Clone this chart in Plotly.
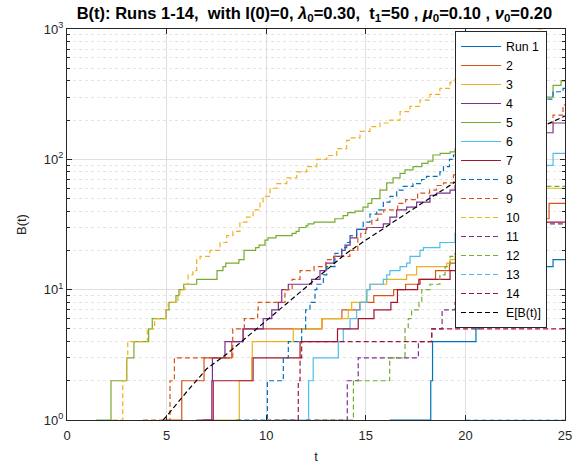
import plotly.graph_objects as go

# Simulated birth counts B(t): for each run, the times at which B jumps and the value after each jump
run1_t = [16.2, 18.26, 18.35, 20.53, 20.68, 20.82, 21.5, 22.5, 23.5, 24.4]
run1_b = [1, 2, 4, 5, 6, 7, 9, 12, 15, 17]

run2_t = [4.8, 5.76, 6.88, 8.27, 8.84, 12.8, 13.8, 14.7, 15.4, 16.4, 17.0, 17.65, 18.5, 19.2, 19.5,
          21.0, 22.5, 24.2]
run2_b = [1, 2, 3, 4, 5, 6, 7, 8, 9, 10, 11, 12, 14, 16, 17, 25, 35, 46]

run3_t = [7.0, 8.65, 9.27, 9.30, 11.36, 12.79, 14.12, 14.29, 15.05, 15.21, 16.05, 17.05, 17.55, 19.06, 19.23, 19.48, 21.0, 22.5, 24.0]
run3_b = [1, 2, 3, 4, 5, 6, 7, 8, 10, 11, 12, 13, 15, 16, 17, 18, 28, 42, 60]

run4_t = [6.5, 7.27, 7.30, 7.93, 8.84, 9.85, 10.28, 10.61, 10.78, 11.11, 12.28, 12.7, 13.0, 13.4, 13.79,
          13.96, 14.21, 14.54, 15.05, 15.88, 16.21, 16.55, 17.05, 17.55, 18.22, 18.56, 19.23, 19.48,
          20.5, 21.5, 22.5, 23.5, 24.4]
run4_b = [1, 2, 3, 4, 5, 6, 7, 8, 10, 11, 12, 14, 16, 18, 20,
          22, 25, 29, 30, 32, 36, 41, 43, 47, 53, 55, 58, 63,
          80, 100, 130, 160, 190]

run5_t = [1.46, 2.21, 3.00, 3.36, 4.10, 4.28, 4.97, 5.12, 5.47, 5.62, 5.86, 6.51, 7.53, 7.83, 7.97,
          8.63, 8.89, 9.47, 9.64, 9.94, 10.09, 10.49, 11.30, 11.50, 11.65, 12.00, 12.10, 12.40, 13.45,
          13.86, 14.09, 14.46, 14.86, 15.11, 15.30, 15.71, 16.05, 16.37, 16.72, 16.97, 17.37, 17.81,
          18.12, 18.37, 18.73, 19.23, 19.48, 20.5, 21.5, 22.5, 23.5, 24.4, 24.8]
run5_b = [1, 2, 3, 4, 5, 6, 7, 8, 9, 10, 11, 12, 14, 15, 16,
          17, 20, 21, 22, 24, 25, 26, 27, 28, 30, 31, 32, 33, 35,
          37, 39, 40, 43, 46, 50, 58, 66, 72, 78, 83, 88, 93,
          97, 108, 111, 114, 121, 160, 200, 250, 300, 370, 400]

run6_t = [10.5, 12.13, 12.36, 13.62, 13.87, 14.21, 14.54, 14.71, 15.05, 15.21, 15.88, 16.05, 16.21,
          16.72, 17.05, 17.22, 17.72, 17.89, 18.72, 19.48, 20.5, 21.5, 22.5, 23.5, 24.4]
run6_b = [1, 2, 3, 4, 5, 6, 7, 8, 10, 11, 12, 13, 14,
          15, 16, 18, 20, 21, 23, 27, 40, 55, 70, 90, 111]

run7_t = [6.8, 7.34, 9.34, 11.70, 13.58, 14.62, 15.41, 16.26, 16.59, 17.60, 17.72, 19.23, 21.0, 22.5, 24.0]
run7_b = [1, 2, 3, 4, 5, 6, 7, 8, 10, 11, 12, 14, 20, 26, 33]

run8_t = [8.5, 10.06, 10.86, 11.11, 11.78, 11.98, 12.20, 12.45, 12.54, 12.87, 13.04, 13.45, 13.79,
          14.04, 14.21, 14.54, 14.87, 15.21, 15.55, 15.88, 16.21, 16.55, 16.88, 17.37, 17.80, 18.05,
          18.72, 18.90, 19.20, 19.40, 20.5, 21.5, 22.5, 23.5, 24.4, 24.9]
run8_b = [1, 2, 3, 4, 5, 7, 8, 10, 11, 13, 15, 19, 21,
          23, 26, 29, 33, 38, 41, 47, 52, 58, 62, 65, 70, 74,
          80, 88, 100, 108, 150, 190, 240, 290, 330, 350]

run9_t = [3.82, 5.17, 5.39, 8.32, 8.90, 9.57, 9.60, 10.94, 11.30, 11.70, 12.40, 13.00, 13.40, 14.20,
          14.60, 14.75, 15.00, 15.30, 15.60, 15.90, 16.60, 17.00, 17.60, 18.20, 18.55, 18.90, 19.40,
          20.5, 21.5, 22.5, 23.5, 24.4, 24.9]
run9_b = [1, 2, 3, 5, 6, 7, 8, 10, 12, 14, 15, 17, 18, 20,
          25, 27, 30, 34, 38, 41, 46, 49, 55, 58, 63, 66, 76,
          100, 130, 160, 190, 218, 262]

run10_t = [2.29, 2.80, 3.00, 3.05, 4.03, 4.40, 4.97, 5.08, 5.57, 5.67, 5.92, 6.08, 6.32, 6.51, 6.68,
           7.18, 7.68, 8.02, 8.33, 8.68, 9.02, 9.34, 9.69, 9.84, 10.19, 10.53, 11.03, 11.53, 12.03,
           12.54, 13.04, 13.54, 14.04, 14.21, 14.71, 15.21, 15.71, 16.21, 16.72, 17.22, 17.72, 18.22,
           18.72, 19.23, 19.48, 19.98, 20.48, 20.98, 21.5, 22.0, 22.5, 23.09, 23.6, 24.0]
run10_b = [1, 2, 3, 4, 5, 6, 7, 8, 9, 10, 11, 13, 14, 17, 18,
           20, 23, 26, 28, 33, 36, 41, 47, 52, 60, 65, 72, 80, 88,
           100, 107, 121, 140, 146, 164, 178, 190, 200, 232, 255, 285, 315,
           350, 390, 415, 460, 520, 580, 630, 700, 780, 875, 1000, 1100]

run11_t = [12.0, 14.07, 14.62, 17.64, 18.31, 18.83, 19.48, 21.0, 22.5, 24.0]
run11_b = [1, 2, 3, 4, 5, 7, 8, 14, 22, 32]

run12_t = [12.5, 14.38, 16.20, 16.97, 17.13, 17.30, 17.67, 17.81, 18.22, 18.72, 18.98, 19.23, 19.48,
           21.0, 22.5, 24.0]
run12_b = [1, 2, 3, 5, 6, 7, 8, 10, 11, 13, 15, 18, 19, 30, 45, 62]

run13_t = [20.0]
run13_b = [1]

run14_t = [10.0, 11.61, 11.70, 11.78, 18.31]
run14_b = [1, 2, 3, 4, 5]

# Expected value E[B(t)], read at sample times
mean_t = [4.82, 5, 6, 7, 8, 9, 10, 11, 12, 13, 14, 15, 16, 17, 18, 19, 20, 21, 22, 23, 24, 25]
mean_b = [1.0, 1.07, 1.64, 2.46, 3.19, 4.29, 5.77, 7.77, 10.4, 14.0, 18.9, 24.0, 30.3, 38, 48, 60,
          75, 93, 116, 146, 183, 215]

T_END = 25
runs = [
    (run1_t, run1_b), (run2_t, run2_b), (run3_t, run3_b), (run4_t, run4_b), (run5_t, run5_b),
    (run6_t, run6_b), (run7_t, run7_b), (run8_t, run8_b), (run9_t, run9_b), (run10_t, run10_b),
    (run11_t, run11_b), (run12_t, run12_b), (run13_t, run13_b), (run14_t, run14_b),
]
names = ["Run 1"] + [str(k) for k in range(2, 15)]
colors = ["#0072BD", "#D95319", "#EDB120", "#7E2F8E", "#77AC30", "#4DBEEE", "#A2142F"]
DASH = "5px,3px"

fig = go.Figure()
for k, (ts, bs) in enumerate(runs):
    x = list(ts) + [T_END]
    y = list(bs) + [bs[-1]]
    fig.add_trace(go.Scatter(
        x=x, y=y, mode="lines", name=names[k],
        line=dict(shape="hv", color=colors[k % 7], width=1.2,
                  dash="solid" if k < 7 else DASH),
    ))
fig.add_trace(go.Scatter(
    x=mean_t, y=mean_b, mode="lines", name="E[B(t)]",
    line=dict(color="black", width=1.2, dash=DASH),
))

axis_color = "#262626"
font = "Liberation Sans, Arial, Helvetica, sans-serif"
minor_vals = [m * 10 ** e for e in range(3) for m in range(2, 10)]

fig.update_layout(
    width=579, height=471,
    margin=dict(l=67, r=14, t=29, b=51),
    paper_bgcolor="white", plot_bgcolor="white",
    font=dict(family=font, size=13, color=axis_color),
    title=dict(
        text="B(t): Runs 1-14,  with I(0)=0, <i>λ</i><sub>0</sub>=0.30,  t<sub>1</sub>=50 , "
             "<i>μ</i><sub>0</sub>=0.10 , <i>ν</i><sub>0</sub>=0.20",
        font=dict(family=font, size=16.5, color="black", weight="bold"),
        x=0.543, xanchor="center", y=0.985, yanchor="top",
    ),
    showlegend=True,
    legend=dict(
        x=(455 - 67) / 498, y=(420 - 31) / 391, xanchor="left", yanchor="top",
        bgcolor="white", bordercolor=axis_color, borderwidth=1,
        font=dict(family=font, size=12.3, color="black"),
        itemwidth=40, tracegroupgap=0,
    ),
    xaxis=dict(
        range=[0, 25], tickvals=[0, 5, 10, 15, 20, 25], automargin=False,
        showline=True, linecolor=axis_color, linewidth=1, mirror="ticks",
        ticks="inside", ticklen=5, tickcolor=axis_color, ticklabelstandoff=3,
        showgrid=True, gridcolor="#dfdfdf", gridwidth=1, zeroline=False,
        title=dict(text="t", standoff=10, font=dict(size=13)),
    ),
    yaxis=dict(
        type="log", range=[0, 3], automargin=False,
        tickvals=[1, 10, 100, 1000],
        ticktext=["10<sup>0</sup>", "10<sup>1</sup>", "10<sup>2</sup>", "10<sup>3</sup>"],
        showline=True, linecolor=axis_color, linewidth=1, mirror="ticks",
        ticks="inside", ticklen=5, tickcolor=axis_color,
        showgrid=True, gridcolor="#dfdfdf", gridwidth=1, zeroline=False,
        minor=dict(tickmode="array", tickvals=minor_vals, ticks="inside", ticklen=3,
                   tickcolor=axis_color, showgrid=True, gridcolor="#e4e4e4", griddash="dot"),
        title=dict(text="B(t)", standoff=14, font=dict(size=13)),
    ),
)

fig.write_html("out.html")
